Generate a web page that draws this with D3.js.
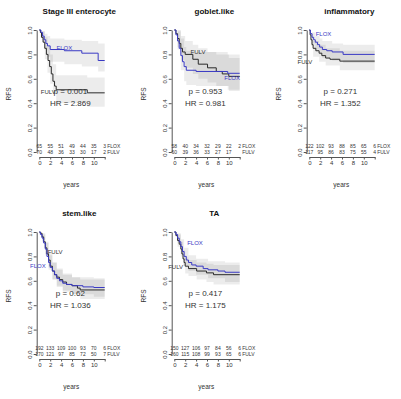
<!DOCTYPE html>
<html>
<head>
<meta charset="utf-8">
<script src="https://cdn.jsdelivr.net/npm/d3@7"></script>
<style>
  html, body { margin: 0; padding: 0; background: #fff; }
  svg { display: block; font-family: "Liberation Sans", Arial, sans-serif; }
</style>
</head>
<body>
<svg id="chart" width="401" height="399"></svg>
<script>
// ── data ───────────────────────────────────────────────────────────────────
const titles = ['Stage III enterocyte', 'goblet.like', 'inflammatory', 'stem.like', 'TA'];
const pVals  = ['0.001', '0.953', '0.271', '0.62', '0.417'];
const hrVals = ['2.869', '0.981', '1.352', '1.036', '1.175'];

const yTicks = [0, 0.2, 0.4, 0.6, 0.8, 1];
const xTicks = [0, 2, 4, 6, 8, 10, 12];
const xTickLabels = ['0', '2', '4', '6', '8', '10', ''];
const riskTimes = [0, 2, 4, 6, 8, 10, 12];

const floxRisk = [
  [65, 55, 51, 49, 44, 35, 3],
  [58, 40, 34, 32, 29, 22, 2],
  [122, 102, 93, 88, 85, 65, 6],
  [192, 133, 109, 100, 93, 70, 6],
  [150, 127, 106, 97, 84, 56, 6],
];
const fulvRisk = [
  [70, 48, 36, 33, 30, 17, 2],
  [60, 39, 36, 33, 27, 17, null],
  [117, 95, 86, 83, 75, 55, 4],
  [170, 121, 97, 85, 72, 50, 7],
  [160, 115, 108, 99, 93, 65, 6],
];

// survival steps [years, RFS]
const entFlox = [[0,1],[0.3,0.98],[0.6,0.95],[0.9,0.92],[1.2,0.89],[1.5,0.87],[2,0.84],[4.6,0.83],[7.8,0.81],[10.8,0.75]];
const entFulv = [[0,1],[0.2,0.98],[0.4,0.94],[0.7,0.9],[1,0.85],[1.3,0.8],[1.6,0.75],[1.9,0.7],[2.2,0.64],[2.5,0.58],[2.8,0.54],[3.1,0.51],[8.8,0.485]];
const gobFlox = [[0,1],[0.3,0.96],[0.6,0.91],[0.9,0.85],[1.2,0.79],[1.5,0.74],[1.8,0.7],[2.2,0.67],[4,0.66],[9.8,0.645]];
const gobFulv = [[0,1],[0.3,0.97],[0.6,0.93],[0.9,0.89],[1.2,0.85],[1.5,0.82],[2,0.8],[3.4,0.76],[4.4,0.72],[6.1,0.69],[7.7,0.66],[8.8,0.64],[10,0.62]];
const infFlox = [[0,1],[0.2,0.97],[0.5,0.94],[0.8,0.92],[1.1,0.9],[1.5,0.88],[1.9,0.86],[2.4,0.84],[3.2,0.83],[4.2,0.82],[6.2,0.8]];
const infFulv = [[0,1],[0.15,0.96],[0.3,0.92],[0.5,0.88],[0.7,0.85],[1.2,0.83],[1.8,0.81],[2.3,0.79],[3,0.77],[3.8,0.76],[5.6,0.745]];
const stemFlox = [[0,1],[0.2,0.98],[0.5,0.95],[0.8,0.91],[1.1,0.86],[1.4,0.8],[1.7,0.75],[2,0.71],[2.4,0.68],[2.8,0.65],[3.2,0.62],[3.7,0.6],[4.3,0.58],[5,0.57],[6,0.56],[8,0.55],[10,0.545]];
const stemFulv = [[0,1],[0.2,0.99],[0.5,0.96],[0.8,0.92],[1.1,0.87],[1.4,0.82],[1.7,0.77],[2,0.72],[2.4,0.68],[2.8,0.65],[3.2,0.63],[3.7,0.61],[4.3,0.59],[5,0.57],[6,0.56],[7,0.54],[7.5,0.525]];
const taFlox = [[0,1],[0.3,0.98],[0.6,0.95],[0.9,0.92],[1.2,0.88],[1.5,0.84],[1.8,0.8],[2.2,0.77],[2.6,0.75],[3.2,0.73],[4,0.72],[5.3,0.7],[6.2,0.69],[8,0.68],[9.3,0.67]];
const taFulv = [[0,1],[0.3,0.97],[0.6,0.93],[0.9,0.9],[1.2,0.86],[1.4,0.82],[1.6,0.78],[1.8,0.75],[2,0.72],[2.6,0.7],[4.1,0.68],[5.9,0.665],[7.2,0.65]];

// confidence bands [years, lower, upper]
const entFloxCI = [[0,1,1],[0.5,0.92,0.99],[1,0.84,0.97],[1.5,0.78,0.95],[2,0.74,0.93],[4.6,0.72,0.92],[7.8,0.7,0.91],[10.8,0.66,0.89]];
const entFulvCI = [[0,1,1],[0.5,0.9,0.99],[1,0.76,0.94],[1.5,0.65,0.87],[2,0.56,0.8],[2.5,0.48,0.72],[3.1,0.4,0.63],[8.8,0.37,0.61]];
const gobFloxCI = [[0,1,1],[0.6,0.84,0.99],[1.2,0.67,0.93],[1.8,0.58,0.86],[2.2,0.55,0.83],[4,0.54,0.82],[9.8,0.51,0.8]];
const gobFulvCI = [[0,1,1],[0.6,0.86,1],[1.2,0.75,0.95],[2,0.69,0.91],[3.4,0.64,0.88],[4.4,0.6,0.85],[6.1,0.57,0.82],[7.7,0.54,0.8],[10,0.5,0.77]];
const infFloxCI = [[0,1,1],[0.5,0.89,0.98],[1.1,0.84,0.95],[1.9,0.8,0.93],[2.4,0.77,0.91],[4.2,0.75,0.89],[6.2,0.73,0.88]];
const infFulvCI = [[0,1,1],[0.3,0.87,0.97],[0.7,0.78,0.91],[1.8,0.74,0.88],[3,0.71,0.85],[5.6,0.67,0.83]];
const stemFloxCI = [[0,1,1],[0.5,0.92,0.98],[1.1,0.81,0.91],[1.7,0.69,0.81],[2.4,0.61,0.75],[3.2,0.55,0.69],[4.3,0.51,0.65],[6,0.49,0.63],[10,0.47,0.62]];
const stemFulvCI = [[0,1,1],[0.5,0.93,0.99],[1.1,0.82,0.92],[1.7,0.71,0.83],[2.4,0.61,0.75],[3.2,0.56,0.7],[4.3,0.52,0.66],[6,0.49,0.63],[7.5,0.45,0.61]];
const taFloxCI = [[0,1,1],[0.6,0.91,0.99],[1.2,0.82,0.94],[1.8,0.73,0.87],[2.6,0.68,0.81],[4,0.65,0.78],[6.2,0.62,0.76],[9.3,0.59,0.75]];
const taFulvCI = [[0,1,1],[0.6,0.88,0.98],[1.2,0.8,0.92],[1.6,0.72,0.85],[2,0.66,0.79],[2.6,0.64,0.77],[4.1,0.61,0.75],[5.9,0.59,0.74],[7.2,0.57,0.73]];

const floxCurves = [entFlox, gobFlox, infFlox, stemFlox, taFlox];
const fulvCurves = [entFulv, gobFulv, infFulv, stemFulv, taFulv];
const floxBands  = [entFloxCI, gobFloxCI, infFloxCI, stemFloxCI, taFloxCI];
const fulvBands  = [entFulvCI, gobFulvCI, infFulvCI, stemFulvCI, taFulvCI];

// ── layout ─────────────────────────────────────────────────────────────────
const END_T = 12;
const COL_W = 135, ROW_H = 202;
const X0 = 39.3, Y0 = 152, PX_W = 65.4, PX_H = 122;
const BLUE = '#3a3ac4', DARK = '#2a2a2a', AXIS = '#555';
// label spots [years, RFS]
const floxLabelAt = [[4.6,0.85],[10.6,0.61],[2.6,0.97],[-0.25,0.72],[3.8,0.91]];
const fulvLabelAt = [[1.65,0.49],[4.35,0.82],[-0.8,0.74],[2.9,0.84],[0.25,0.71]];
const statT = 5.7;

const svg = d3.select('#chart');

function panel(i) {
  const col = i % 3, row = Math.floor(i / 3);
  const left = X0 + col * COL_W, base = Y0 + row * ROW_H;
  const x = d3.scaleLinear().domain([0, END_T]).range([left, left + PX_W]);
  const y = d3.scaleLinear().domain([0, 1]).range([base, base - PX_H]);
  const g = svg.append('g').attr('class', 'panel');

  // bands
  const area = d3.area().curve(d3.curveStepAfter)
    .x(d => x(d[0])).y0(d => y(d[1])).y1(d => y(d[2]));
  [floxBands[i], fulvBands[i]].forEach(b => {
    const last = b[b.length - 1];
    g.append('path').datum([...b, [END_T, last[1], last[2]]])
      .attr('d', area).attr('fill', '#000').attr('fill-opacity', 0.075);
  });

  // curves
  const line = d3.line().curve(d3.curveStepAfter).x(d => x(d[0])).y(d => y(d[1]));
  [[fulvCurves[i], DARK], [floxCurves[i], BLUE]].forEach(([c, col]) => {
    const last = c[c.length - 1];
    g.append('path').datum([...c, [END_T, last[1]]])
      .attr('d', line).attr('fill', 'none').attr('stroke', col).attr('stroke-width', 1);
  });

  // axes
  const ya = g.append('g').attr('transform', `translate(${x(0) - 2.6},0)`)
    .call(d3.axisLeft(y).tickValues(yTicks).tickSize(3).tickSizeOuter(0).tickFormat(d3.format('.1f')));
  ya.selectAll('text').attr('transform', 'rotate(-90)').attr('x', 0).attr('y', -4.5)
    .attr('dy', 0).attr('text-anchor', 'middle');
  const xa = g.append('g').attr('transform', `translate(0,${base + 5})`)
    .call(d3.axisBottom(x).tickValues(xTicks).tickSize(2.5).tickSizeOuter(0).tickPadding(1.5)
      .tickFormat((d, k) => xTickLabels[k]));
  [ya, xa].forEach(a => {
    a.attr('font-family', null).attr('font-size', 6).attr('fill', null);
    a.selectAll('path, line').attr('stroke', AXIS);
    a.selectAll('text').attr('fill', '#333');
  });

  // risk table
  [[floxRisk[i], 'FLOX', -9], [fulvRisk[i], 'FULV', -3.5]].forEach(([vals, name, dy]) => {
    g.selectAll(null).data(vals.map((v, k) => [riskTimes[k], v]).filter(d => d[1] != null))
      .join('text').attr('x', d => x(d[0])).attr('y', base + 5 + dy)
      .attr('text-anchor', 'middle').attr('font-size', 5).attr('fill', '#333')
      .text(d => d[1]);
    g.append('text').attr('x', x(END_T) + 2.5).attr('y', base + 5 + dy)
      .attr('font-size', 5).attr('fill', '#333').text(name);
  });

  // labels
  g.append('text').attr('x', x(floxLabelAt[i][0])).attr('y', y(floxLabelAt[i][1]))
    .attr('text-anchor', 'middle').attr('dy', '0.35em').attr('font-size', 6)
    .attr('fill', BLUE).text('FLOX');
  g.append('text').attr('x', x(fulvLabelAt[i][0])).attr('y', y(fulvLabelAt[i][1]))
    .attr('text-anchor', 'middle').attr('dy', '0.35em').attr('font-size', 6)
    .attr('fill', '#333').text('FULV');
  g.append('text').attr('x', x(statT)).attr('y', y(0.5)).attr('dy', '0.35em')
    .attr('text-anchor', 'middle').attr('font-size', 8).attr('fill', '#333')
    .text(`p = ${pVals[i]}`);
  g.append('text').attr('x', x(statT)).attr('y', y(0.4)).attr('dy', '0.35em')
    .attr('text-anchor', 'middle').attr('font-size', 8).attr('fill', '#333')
    .text(`HR = ${hrVals[i]}`);

  // title + axis titles
  g.append('text').attr('x', left + 40).attr('y', 11 + row * ROW_H).attr('dy', '0.35em')
    .attr('text-anchor', 'middle').attr('font-size', 8).attr('font-weight', 'bold')
    .attr('fill', '#111').text(titles[i]);
  g.append('text').attr('transform', `translate(${left - 31},${94 + row * ROW_H}) rotate(-90)`)
    .attr('dy', '0.35em').attr('text-anchor', 'middle').attr('font-size', 6.5)
    .attr('fill', '#333').text('RFS');
  g.append('text').attr('x', left + 32).attr('y', 185 + row * ROW_H).attr('dy', '0.35em')
    .attr('text-anchor', 'middle').attr('font-size', 6.5).attr('fill', '#333').text('years');
}

titles.forEach((_, i) => panel(i));
</script>
</body>
</html>
